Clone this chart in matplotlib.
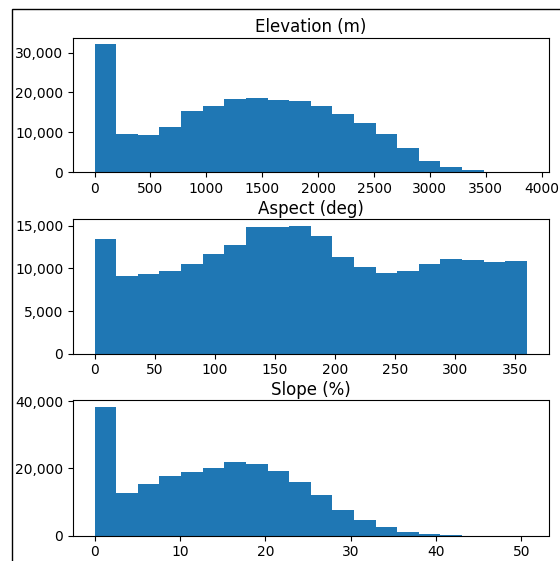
import numpy as np
import matplotlib
matplotlib.use('Agg')
import matplotlib.pyplot as plt
from matplotlib.patches import Rectangle
from matplotlib.ticker import MultipleLocator, StrMethodFormatter

# histogram counts (20 equal bins each)
elev_range = (0, 3868)
elev_counts = [32130, 9460, 9200, 11380, 15230, 16650, 18240, 18580, 18080, 17820,
               16570, 14640, 12300, 9460, 6030, 2850, 1260, 420, 40, 5]

aspect_range = (0, 360)
aspect_counts = [13516, 9102, 9336, 9727, 10547, 11680, 12734, 14922, 14900, 15020,
                 13789, 11289, 10117, 9492, 9648, 10508, 11133, 10977, 10742, 10820]

slope_range = (0, 50.66)
slope_counts = [38308, 12637, 15423, 17811, 18905, 20199, 21990, 21393, 19204, 15920,
                12239, 7562, 4577, 2488, 995, 400, 100, 20, 5, 1]

titles = ['Elevation (m)', 'Aspect (deg)', 'Slope (%)']
x_steps = [500, 50, 10]
y_steps = [10000, 5000, 20000]

fig = plt.figure(figsize=(5.6, 5.61), dpi=100)
W, H = 560, 561
left, right = 73 / W, 548.5 / W
ax_boxes = [(37.7, 172.0), (219.3, 353.7), (400.3, 535.7)]

data = [(elev_range, elev_counts), (aspect_range, aspect_counts), (slope_range, slope_counts)]
for i, ((lo, hi), counts) in enumerate(data):
    top, bot = ax_boxes[i]
    ax = fig.add_axes([left, 1 - bot / H, right - left, (bot - top) / H])
    edges = np.linspace(lo, hi, len(counts) + 1)
    ax.hist(edges[:-1], bins=edges, weights=counts, color='#1f77b4')
    ax.set_title(titles[i], fontsize=12, pad=4)
    ax.xaxis.set_major_locator(MultipleLocator(x_steps[i]))
    ax.yaxis.set_major_locator(MultipleLocator(y_steps[i]))
    ax.yaxis.set_major_formatter(StrMethodFormatter('{x:,.0f}'))
    ax.tick_params(labelsize=10)

# frame of the larger figure this was cropped from
fig.patches.append(Rectangle((11.7 / W, -0.2), 1.5, 1.2 - 9.3 / H, transform=fig.transFigure,
                             fill=False, edgecolor='black', linewidth=1.0))

fig.savefig('out.png', dpi=100)
